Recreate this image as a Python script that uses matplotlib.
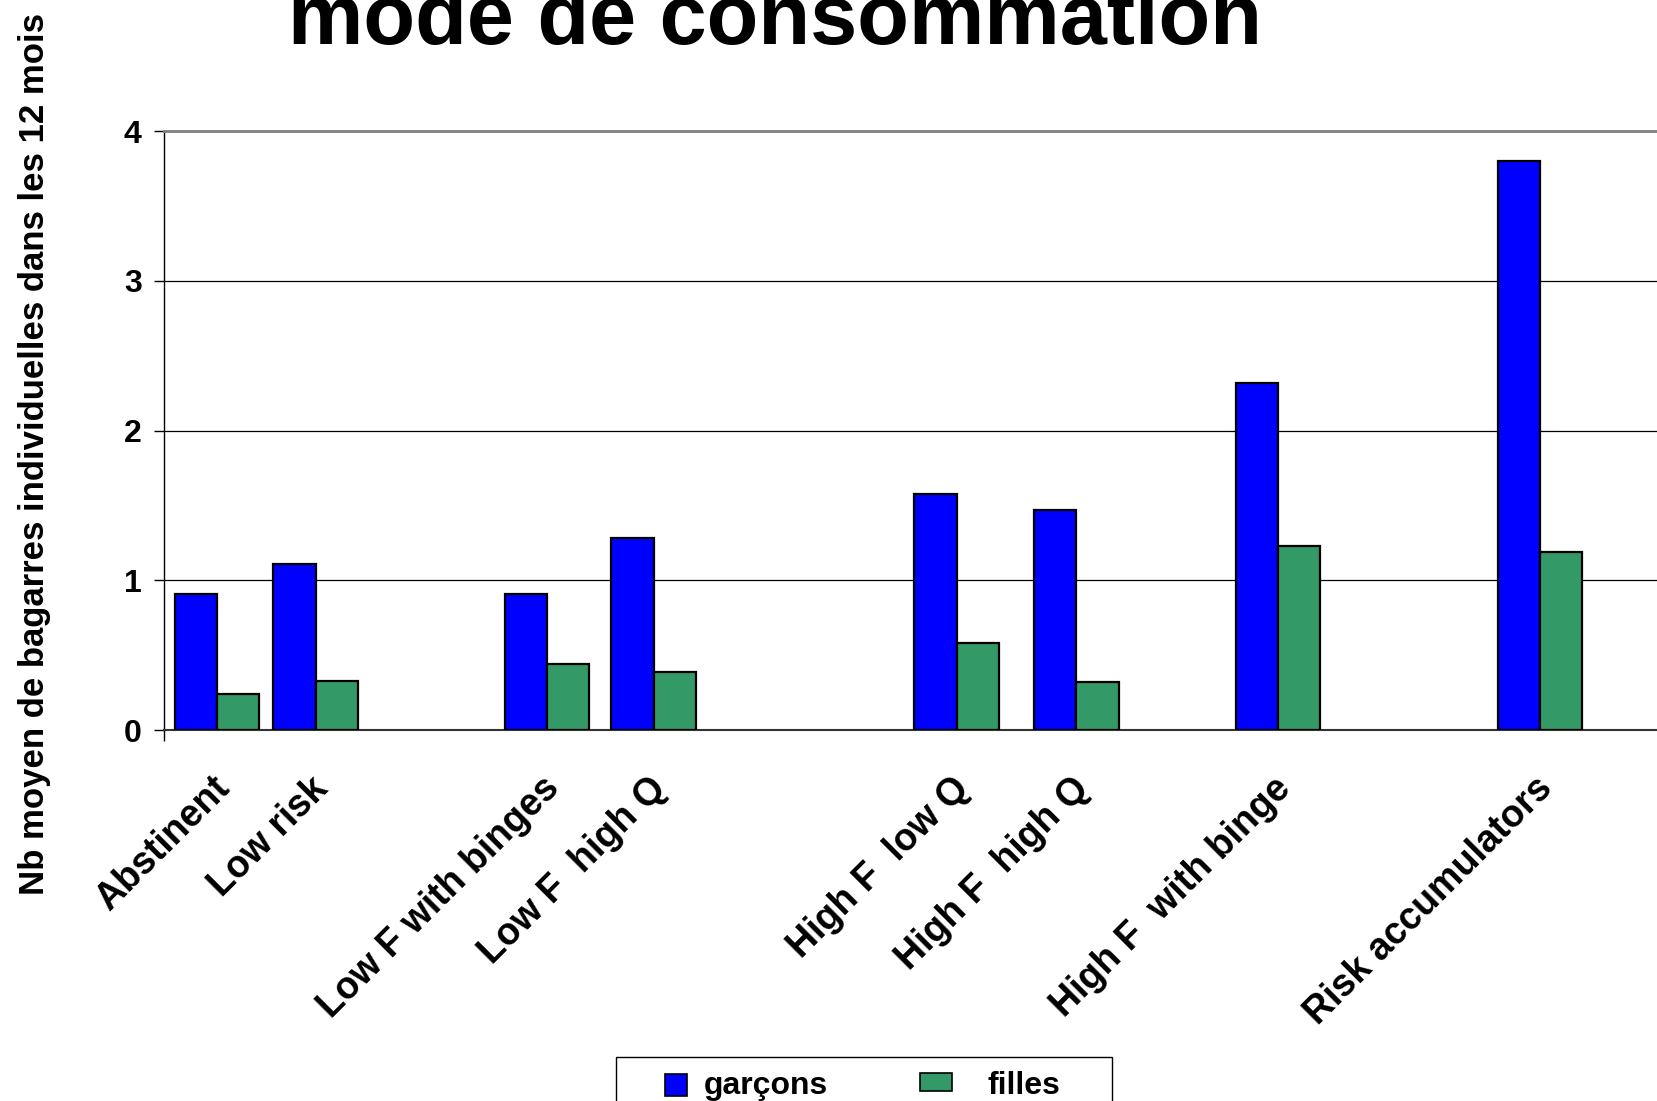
import matplotlib
matplotlib.use("Agg")
import matplotlib.pyplot as plt
import matplotlib.transforms as mtransforms
from matplotlib.patches import Rectangle

plt.rcParams["font.family"] = ["Liberation Sans", "DejaVu Sans"]
plt.rcParams["font.weight"] = "bold"

# ── Data ─────────────────────────────────────────────────────────
categories = [
    "Abstinent", "Low risk", "Low F with binges", "Low F  high Q",
    "High F  low Q", "High F  high Q", "High F  with binge", "Risk accumulators",
]
garcons = [0.91, 1.11, 0.91, 1.28, 1.58, 1.47, 2.32, 3.80]
filles = [0.24, 0.33, 0.44, 0.39, 0.58, 0.32, 1.23, 1.19]
# category centres along the axis (uneven spacing, in bar-width units)
positions = [1.26, 3.59, 9.06, 11.59, 18.76, 21.59, 26.36, 32.56]

BLUE = "#0000FF"
GREEN = "#339966"
BAR_W = 1.0

fig = plt.figure(figsize=(16.57, 11.01), dpi=100)
ax = fig.add_axes([0.0989, 0.3368, 0.9011, 0.5442])

ax.bar([p - BAR_W / 2 for p in positions], garcons, width=BAR_W,
       color=BLUE, edgecolor="black", linewidth=1.6, zorder=3)
ax.bar([p + BAR_W / 2 for p in positions], filles, width=BAR_W,
       color=GREEN, edgecolor="black", linewidth=1.6, zorder=3)

ax.set_xlim(0, 35.33)
ax.set_ylim(0, 4)

# y axis
ax.set_yticks([0, 1, 2, 3, 4])
ax.tick_params(axis="y", direction="out", length=7, width=1, pad=9,
               labelsize=23)
ax.yaxis.grid(True, color="black", linewidth=0.9, zorder=0)

# x axis: labels at category centres, one outer tick at the origin
ax.set_xticks(positions)
ax.set_xticklabels(categories, rotation=45, ha="right", va="center",
                   rotation_mode="anchor", fontsize=27)
ax.tick_params(axis="x", length=0, pad=38)
ax.set_xticks([0], minor=True)
ax.tick_params(axis="x", which="minor", direction="out", length=8, width=1)
shift = mtransforms.ScaledTranslation(5 / 72, 0, fig.dpi_scale_trans)
for lbl in ax.get_xticklabels():
    lbl.set_transform(lbl.get_transform() + shift)

ax.spines["right"].set_visible(False)
ax.spines["top"].set_color("#808080")
ax.spines["top"].set_linewidth(2)
ax.spines["left"].set_color("black")
ax.spines["left"].set_linewidth(1)
ax.spines["bottom"].set_color("#333333")
ax.spines["bottom"].set_linewidth(1.5)

# titles
fig.text(0.468, 0.960, "mode de consommation", ha="center", va="baseline",
         fontsize=61, fontweight="bold")
fig.text(0.021, 0.588, "Nb moyen de bagarres individuelles dans les 12 mois",
         rotation=90, ha="center", va="center", fontsize=25,
         fontweight="bold")

# legend box at the bottom
fig.patches.append(Rectangle((0.372, -0.06), 0.299, 0.1, transform=fig.transFigure,
                             facecolor="white", edgecolor="black",
                             linewidth=1))
fig.patches.append(Rectangle((0.4013, 0.0045), 0.0133, 0.0200,
                             transform=fig.transFigure, facecolor=BLUE,
                             edgecolor="black", linewidth=1.2))
fig.patches.append(Rectangle((0.5552, 0.0090), 0.0193, 0.0164,
                             transform=fig.transFigure, facecolor=GREEN,
                             edgecolor="black", linewidth=1.2))
fig.text(0.425, 0.0060, "garçons", ha="left", va="baseline", fontsize=23,
         fontweight="bold")
fig.text(0.596, 0.0060, "filles", ha="left", va="baseline", fontsize=23,
         fontweight="bold")

fig.savefig("out.png", dpi=100)
